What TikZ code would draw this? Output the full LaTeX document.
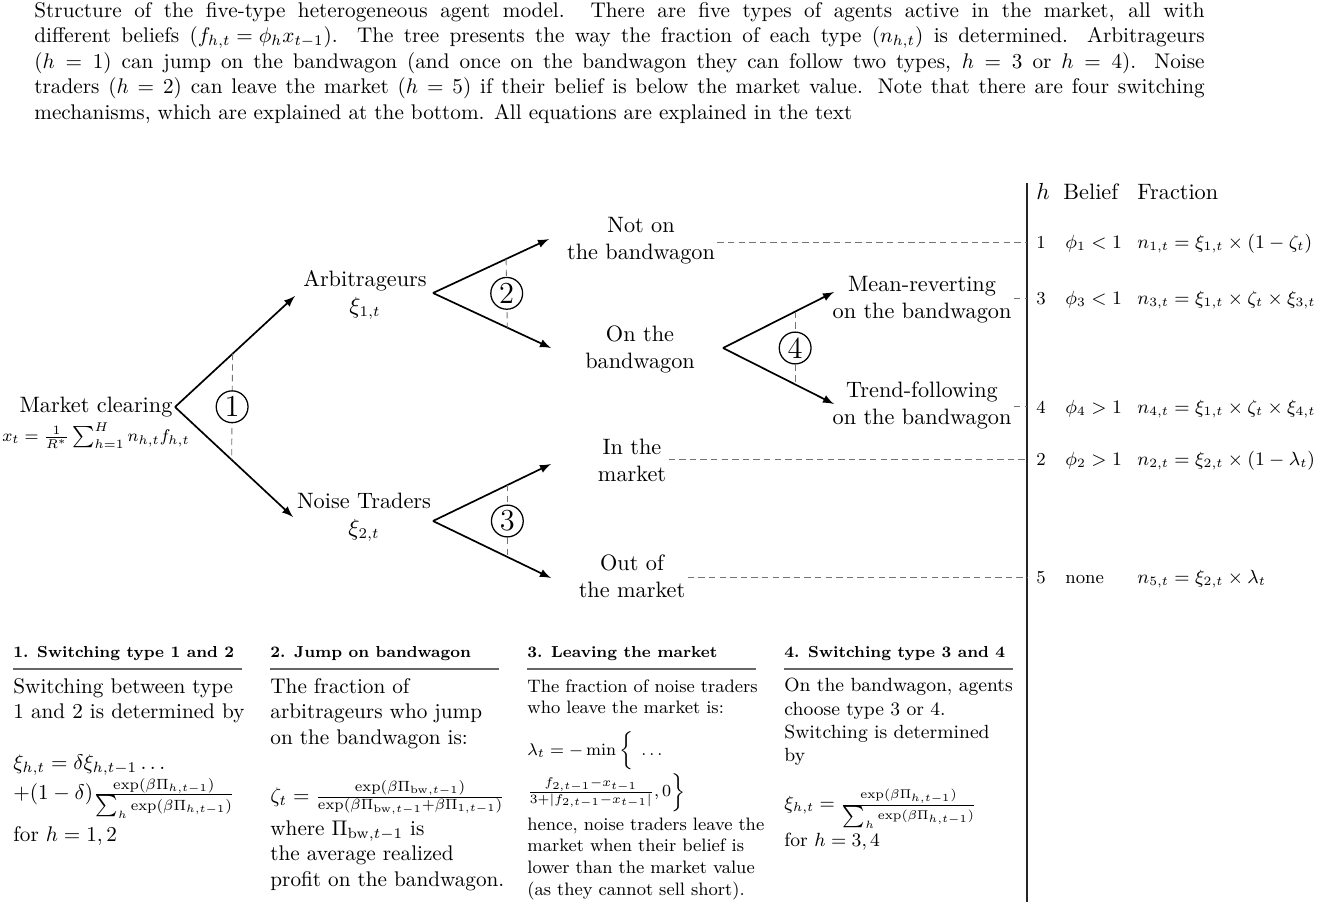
\documentclass[tikz,border=0pt]{standalone}
\usetikzlibrary{calc}
\tikzset{
  lbl/.style={align=center, inner sep=1pt, font=\fontsize{10.5}{12.7}\selectfont},
  arr/.style={-latex, line width=.8pt},
  guide/.style={densely dashed, black!55, line width=.4pt},
  link/.style={densely dashed, black!55, line width=.4pt},
  num/.style={circle, draw, fill=white, inner sep=0pt, minimum size=15pt, line width=.6pt, font=\Large},
  cell/.style={anchor=base west, inner sep=0pt, font=\fontsize{8.6}{10}\selectfont},
  head/.style={anchor=base west, inner sep=0pt, font=\fontsize{7.5}{9}\selectfont\bfseries},
  body/.style={anchor=north west, inner sep=0pt, text width=125pt, align=left},
  sep/.style={black!60, line width=.5pt}
}
\begin{document}
\begin{tikzpicture}[x=.4717pt, y=-.4717pt]
  \useasboundingbox (0,0) rectangle (1335,902);

  % caption
  \node[anchor=north west, inner sep=0pt, text width=552pt, align=justify] (cap) at (34,2) {%
    Structure of the five-type heterogeneous agent model. There are five types of agents active in the market, all with\linebreak
    different beliefs $\left(f_{h,t}=\phi_h x_{t-1}\right)$. The tree presents the way the fraction of each type $\left(n_{h,t}\right)$ is determined. Arbitrageurs\linebreak
    $(h=1)$ can jump on the bandwagon (and once on the bandwagon they can follow two types, $h=3$ or $h=4$). Noise\linebreak
    traders $(h=2)$ can leave the market $(h=5)$ if their belief is below the market value. Note that there are four switching\linebreak
    mechanisms, which are explained at the bottom. All equations are explained in the text};

  % tree
  \node[lbl] (mc) at (96,423) {Market clearing\\[1pt] {\fontsize{8.4}{10}\selectfont $x_t=\frac{1}{R^*}\sum_{h=1}^{H}n_{h,t}f_{h,t}$}};
  \node[lbl] (arb) at (365,295) {Arbitrageurs\\ $\xi_{1,t}$};
  \node[lbl] (noise) at (364,517) {Noise Traders\\ $\xi_{2,t}$};
  \node[lbl] (notbw) at (641,241) {Not on\\ the bandwagon};
  \node[lbl] (onbw) at (640,349) {On the\\ bandwagon};
  \node[lbl] (inmkt) at (632,460) {In the\\ market};
  \node[lbl] (outmkt) at (632,576) {Out of\\ the market};
  \node[lbl] (mr) at (922,300) {Mean-reverting\\ on the bandwagon};
  \node[lbl] (tf) at (922,405) {Trend-following\\ on the bandwagon};

  % forks and arrow tips
  \coordinate (f1) at (175,407);
  \coordinate (t1a) at (295,296);
  \coordinate (t1b) at (293,517);
  \coordinate (f2) at (433,293);
  \coordinate (t2a) at (549,239);
  \coordinate (t2b) at (551,348);
  \coordinate (f3) at (433,521);
  \coordinate (t3a) at (551,464);
  \coordinate (t3b) at (551,578);
  \coordinate (f4) at (723,348);
  \coordinate (t4a) at (834,292);
  \coordinate (t4b) at (834,404);

  \foreach \k/\p in {1/.48, 2/.63, 3/.63, 4/.65} {
    \draw[arr] (f\k) -- (t\k a);
    \draw[arr] (f\k) -- (t\k b);
    \coordinate (g\k a) at ($(f\k)!\p!(t\k a)$);
    \coordinate (g\k b) at ($(f\k)!\p!(t\k b)$);
    \draw[guide] (g\k a) -- (g\k b);
    \node[num] (n\k) at ($(g\k a)!.5!(g\k b)$) {\k};
  }

  % table
  \coordinate (axis) at (1027,183);
  \draw[black!85, line width=1.4pt] (axis) -- (1027,902);
  \node[cell, font=\fontsize{10.5}{12.7}\selectfont] (hh) at (1036,199) {$h$};
  \node[cell, font=\fontsize{10.5}{12.7}\selectfont] (hb) at (1063,199) {Belief};
  \node[cell, font=\fontsize{10.5}{12.7}\selectfont] (hf) at (1137,199) {Fraction};
  \foreach \h/\yy/\bel/\frc in {
      1/248/{$\phi_1<1$}/{$n_{1,t}=\xi_{1,t}\times(1-\zeta_t)$},
      3/304/{$\phi_3<1$}/{$n_{3,t}=\xi_{1,t}\times\zeta_t\times\xi_{3,t}$},
      4/413/{$\phi_4>1$}/{$n_{4,t}=\xi_{1,t}\times\zeta_t\times\xi_{4,t}$},
      2/465/{$\phi_2>1$}/{$n_{2,t}=\xi_{2,t}\times(1-\lambda_t)$},
      5/583/{none}/{$n_{5,t}=\xi_{2,t}\times\lambda_t$}} {
    \node[cell] (h\h) at (1036,\yy) {\h};
    \node[cell] (b\h) at (1065,\yy) {\bel};
    \node[cell] (c\h) at (1137,\yy) {\frc};
  }
  \draw[link] (notbw.east |- h1) -- (axis |- h1);
  \draw[link] (mr.east |- h3) -- (axis |- h3);
  \draw[link] (tf.east |- h4) -- (axis |- h4);
  \draw[link] (inmkt.east |- h2) -- (axis |- h2);
  \draw[link] (outmkt.east |- h5) -- (axis |- h5);

  % switching mechanisms
  \foreach \i/\x/\ttl in {1/13/{Switching type 1 and 2}, 2/270/{Jump on bandwagon},
                          3/527/{Leaving the market}, 4/784/{Switching type 3 and 4}} {
    \node[head] (hd\i) at (\x,657) {\i. \ttl};
    \draw[sep] (\x,669) -- ++(229,0);
  }
  \node[body] (bx1) at (13,678) {Switching between type\\ 1 and 2 is determined by\\[12pt]
    $\xi_{h,t}=\delta\xi_{h,t-1}\dots$\\
    $+(1-\delta)\frac{\exp(\beta\Pi_{h,t-1})}{\sum_h\exp(\beta\Pi_{h,t-1})}$\\[3pt]
    for $h=1,2$};
  \node[body] (bx2) at (270,678) {The fraction of\\ arbitrageurs who jump\\ on the bandwagon is:\\[14pt]
    $\zeta_t=\frac{\exp(\beta\Pi_{\mathrm{bw},t-1})}{\exp(\beta\Pi_{\mathrm{bw},t-1}+\beta\Pi_{1,t-1})}$\\[2pt]
    where $\Pi_{\mathrm{bw},t-1}$ is\\ the average realized\\ profit on the bandwagon.};
  \node[body, font=\fontsize{8.5}{10.2}\selectfont] (bx3) at (527,679) {The fraction of noise traders\\ who leave the market is:\\[7pt]
    $\lambda_t=-\min\Big\{\;\dots$\\
    $\frac{f_{2,t-1}-x_{t-1}}{3+|f_{2,t-1}-x_{t-1}|},0\Big\}$\\[2pt]
    hence, noise traders leave the\\ market when their belief is\\ lower than the market value\\ (as they cannot sell short).};
  \node[body, font=\small] (bx4) at (784,678) {On the bandwagon, agents\\ choose type 3 or 4.\\ Switching is determined\\ by\\[10pt]
    $\xi_{h,t}=\frac{\exp(\beta\Pi_{h,t-1})}{\sum_h\exp(\beta\Pi_{h,t-1})}$\\[1pt]
    for $h=3,4$};
\end{tikzpicture}
\end{document}
